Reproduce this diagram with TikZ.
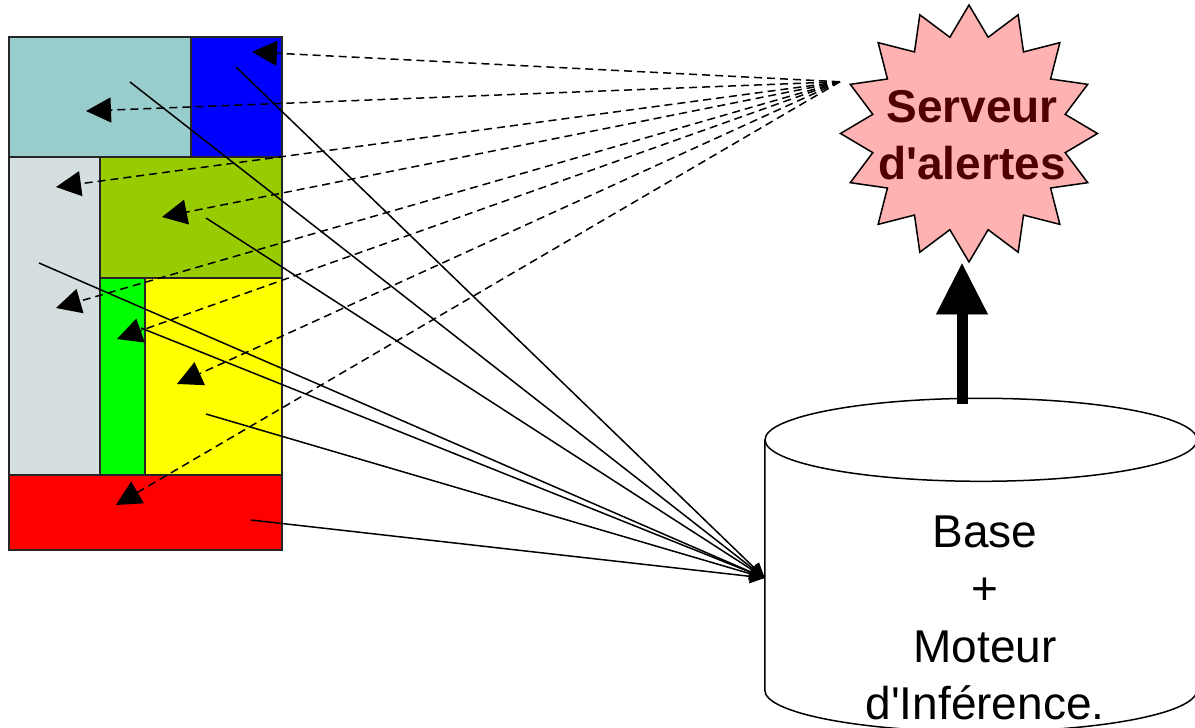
\documentclass[tikz,border=0pt]{standalone}
\usepackage{fontspec}
\setmainfont{Liberation Sans}[Ligatures=TeXOff]
\usetikzlibrary{arrows.meta,shapes.geometric,calc}
\definecolor{cteal}{HTML}{99CCCC}
\definecolor{cblue}{HTML}{0000FF}
\definecolor{clgray}{HTML}{D6DFE0}
\definecolor{colive}{HTML}{99CC00}
\definecolor{cgreen}{HTML}{00FF00}
\definecolor{cyellow}{HTML}{FFFF00}
\definecolor{cred}{HTML}{FF0000}
\definecolor{cpink}{HTML}{FFB2B2}
\definecolor{cdark}{HTML}{500000}
\tikzset{
  zone/.style={draw=black!85, line width=1.6pt, inner sep=0pt, outer sep=0pt, anchor=north west},
  feed/.style={line width=1.5pt, -{Triangle[length=15pt,width=14pt]}},
  alert/.style={line width=1.5pt, dash pattern=on 8pt off 5pt, -{Triangle[length=25pt,width=25pt]}},
  lift/.style={line width=11pt, -{Triangle[length=51pt,width=52pt,line width=0.5pt]}},
  cyl/.style={line width=1.5pt},
  bigtext/.style={font=\fontsize{46}{57.5}\selectfont, align=center, inner sep=0pt},
}
\begin{document}
\begin{tikzpicture}[x=1pt,y=-1pt]
\useasboundingbox (0,0) rectangle (1195,728);
\fill[white] (0,0) rectangle (1195,728);
% left block
\node[zone, fill=cteal,  minimum width=182, minimum height=120] (teal)   at (9,37) {};
\node[zone, fill=cblue,  minimum width=91,  minimum height=120] (blue)   at (191,37) {};
\node[zone, fill=clgray, minimum width=91,  minimum height=318] (lgray)  at (9,157) {};
\node[zone, fill=colive, minimum width=182, minimum height=121] (olive)  at (100,157) {};
\node[zone, fill=cgreen, minimum width=45,  minimum height=197] (green)  at (100,278) {};
\node[zone, fill=cyellow,minimum width=137, minimum height=197] (yellow) at (145,278) {};
\node[zone, fill=cred,   minimum width=273, minimum height=75]  (red)    at (9,475) {};
% star
\node[star, star points=16, star point ratio=1.31, minimum size=257pt, inner sep=0pt,
      draw, line width=1.5pt, fill=cpink] (srv) at (969,133.5) {};
\node[bigtext, font=\bfseries\fontsize{46}{57}\selectfont, text=cdark] (srvtext) at (972,135) {Serveur\\d'alertes};
% database
\node[minimum width=432pt, minimum height=250pt, inner sep=0pt] (db) at (981,565) {};
\draw[cyl] (db.north west) -- (db.south west)
  arc[start angle=180, end angle=360, x radius=216pt, y radius=41.5pt] -- (db.north east);
\draw[cyl] (db.north) ellipse[x radius=216pt, y radius=41.5pt];
\node[bigtext] (dbtext) at (985,618) {Base\\+\\Moteur\\d'Inférence.};
% thick arrow
\coordinate (foot) at (962,404);
\draw[lift] (foot) -- (foot |- srv.south);
% named points
\coordinate (src) at ($(srv.outer point 4)+(-9,-2)$);
\coordinate (dbin) at ($(db.west)+(0,13)$);
\coordinate (a1) at (252,52);
\coordinate (a2) at (86,111);
\coordinate (a3) at (56,187);
\coordinate (a4) at (162,217);
\coordinate (a5) at (56,308);
\coordinate (a6) at (117,339);
\coordinate (a7) at (177,384);
\coordinate (a8) at (116,505);
\coordinate (s1) at (130,82);
\coordinate (s2) at (236,67);
\coordinate (s3) at (206,218);
\coordinate (s4) at (39,263);
\coordinate (s5) at (141,328);
\coordinate (s6) at (206,414);
\coordinate (s7) at (251,520);
\foreach \p in {s1,s2,s3,s4,s5,s6,s7} \draw[feed] (\p) -- (dbin);
\foreach \p in {a1,a2,a3,a4,a5,a6,a7,a8} \draw[alert] (src) -- (\p);
\end{tikzpicture}
\end{document}
